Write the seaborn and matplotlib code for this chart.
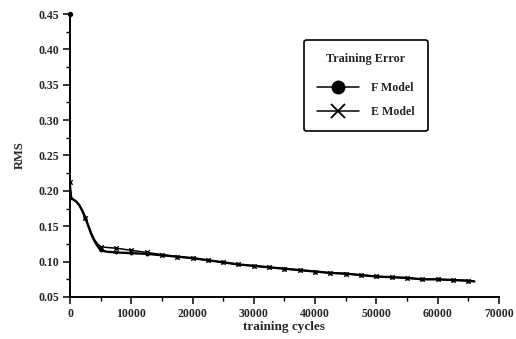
import matplotlib
matplotlib.use("Agg")
import matplotlib.pyplot as plt
import seaborn as sns
import pandas as pd
from matplotlib.lines import Line2D
from matplotlib.ticker import MultipleLocator

# Training cycles and RMS error for the two models
f_cycles = [0, 500, 1000, 1500, 2000, 2500, 3000, 3500, 4000, 4500, 5000, 6000,
            7500, 10000, 12500, 15000, 17500, 20000, 22500, 25000, 27500, 30000,
            32500, 35000, 37500, 40000, 42500, 45000, 47500, 50000, 52500, 55000,
            57500, 60000, 62500, 65000, 66000]
f_rms = [0.190, 0.188, 0.185, 0.180, 0.172, 0.162, 0.150, 0.138, 0.129, 0.122,
         0.116, 0.114, 0.113, 0.112, 0.111, 0.109, 0.107, 0.105, 0.102, 0.099,
         0.096, 0.094, 0.092, 0.090, 0.088, 0.086, 0.084, 0.083, 0.081, 0.079,
         0.078, 0.077, 0.075, 0.075, 0.074, 0.073, 0.072]

e_cycles = [0, 250, 500, 1000, 1500, 2000, 2500, 3000, 3500, 4000, 4500, 5000,
            6000, 7500, 10000, 12500, 15000, 17500, 20000, 22500, 25000, 27500,
            30000, 32500, 35000, 37500, 40000, 42500, 45000, 47500, 50000, 52500,
            55000, 57500, 60000, 62500, 65000, 66000]
e_rms = [0.213, 0.191, 0.188, 0.185, 0.180, 0.172, 0.162, 0.151, 0.140, 0.131,
         0.125, 0.121, 0.120, 0.119, 0.116, 0.113, 0.110, 0.107, 0.105, 0.102,
         0.099, 0.096, 0.094, 0.092, 0.090, 0.088, 0.086, 0.084, 0.083, 0.081,
         0.079, 0.078, 0.077, 0.075, 0.075, 0.074, 0.073, 0.072]

x_ticks = [0, 10000, 20000, 30000, 40000, 50000, 60000, 70000]
y_ticks = [0.05, 0.10, 0.15, 0.20, 0.25, 0.30, 0.35, 0.40, 0.45]

sns.set_style("ticks")
plt.rcParams["font.family"] = ["Liberation Serif", "DejaVu Serif"]
plt.rcParams["font.weight"] = "bold"

f_df = pd.DataFrame({"cycles": f_cycles, "rms": f_rms})
e_df = pd.DataFrame({"cycles": e_cycles, "rms": e_rms})
f_mk = f_df[f_df["cycles"] % 2500 == 0]
e_mk = e_df[e_df["cycles"] % 2500 == 0]

fig = plt.figure(figsize=(5.16, 3.39), dpi=100)
ax = fig.add_axes([0.1357, 0.1239, 0.831, 0.8348])

sns.lineplot(data=f_df, x="cycles", y="rms", ax=ax, color="black", lw=1.7,
             sort=False, estimator=None)
sns.lineplot(data=e_df, x="cycles", y="rms", ax=ax, color="black", lw=1.1,
             sort=False, estimator=None)
sns.scatterplot(data=f_mk, x="cycles", y="rms", ax=ax, color="black",
                marker="o", s=8, linewidth=0)
sns.scatterplot(data=e_mk, x="cycles", y="rms", ax=ax, color="black",
                marker="x", s=10, linewidth=1.0)

ax.set_xlim(0, 70000)
ax.set_ylim(0.05, 0.45)
ax.set_xticks(x_ticks)
ax.set_xticklabels([str(t) for t in x_ticks])
ax.set_yticks(y_ticks)
ax.set_yticklabels([f"{t:.2f}" for t in y_ticks])
ax.xaxis.set_minor_locator(MultipleLocator(5000))
ax.yaxis.set_minor_locator(MultipleLocator(0.025))
ax.tick_params(which="major", length=5, width=1.1, labelsize=8.5, pad=3,
               color="black")
ax.tick_params(which="minor", length=3, width=1.0, color="black")
for lab in ax.get_xticklabels() + ax.get_yticklabels():
    lab.set_fontweight("bold")

sns.despine(ax=ax)
for side in ("left", "bottom"):
    ax.spines[side].set_linewidth(1.4)
    ax.spines[side].set_color("black")
ax.plot([0], [0.45], marker="o", ms=2.8, color="black", clip_on=False)

ax.set_xlabel("training cycles", fontsize=9.5, fontweight="bold", labelpad=1)
ax.set_ylabel("RMS", fontsize=9, fontweight="bold", labelpad=9)

handles = [
    Line2D([], [], color="black", lw=1.1, marker="o", ms=9, label="F Model"),
    Line2D([], [], color="black", lw=1.1, marker="x", ms=10, mew=1.3,
           label="E Model"),
]
leg = ax.legend(handles=handles, title="Training Error",
                loc="upper left", bbox_to_anchor=(0.546, 0.908),
                borderaxespad=0, frameon=True, fancybox=True,
                edgecolor="black", handlelength=3.5, handletextpad=1.0,
                borderpad=1.1, labelspacing=1.0,
                prop={"size": 8.6, "weight": "bold"},
                title_fontproperties={"size": 8.8, "weight": "bold"})
leg.get_frame().set_linewidth(1.2)
leg.get_frame().set_alpha(1)
leg._legend_box.sep = 12

fig.savefig("out.png", dpi=100)
